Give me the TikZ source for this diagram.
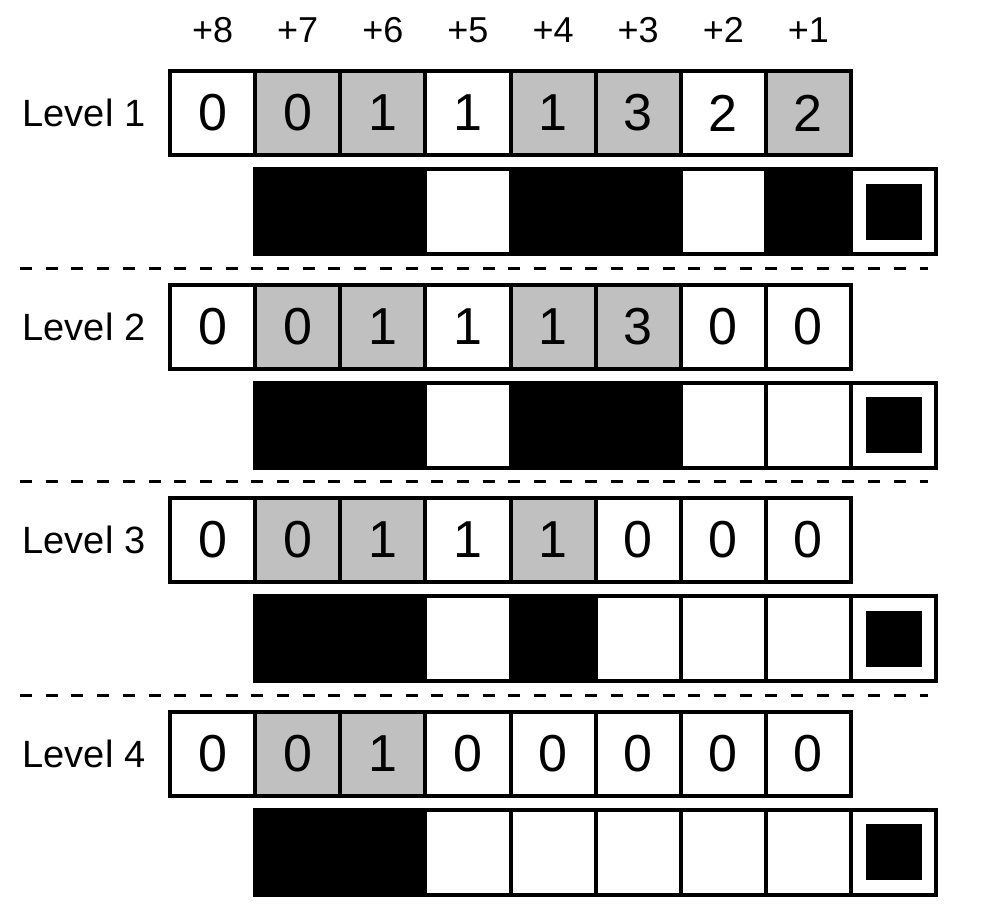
\documentclass[tikz,border=0pt]{standalone}
\usepackage{fontspec}
\setmainfont{Liberation Sans}
\definecolor{cellgray}{RGB}{192,192,192}
\newcommand\drawlevel[3]{%
  \pgfmathsetmacro\ty{113+213.5*(#1-1)}%
  \pgfmathsetmacro\by{211.5+213.5*(#1-1)}%
  \node[lvl] (L#1) at (84,\ty) {Level #1};
  \foreach \v/\f [count=\i] in {#2} {
    \node[cellbox,\f] (t#1c\i) at ({170+85.125*(\i-0.5)},\ty) {\v};
  }
  \foreach \f [count=\j from 2] in {#3} {
    \node[barbox,\f] (b#1c\j) at ({170+85.125*(\j-0.5)},\by) {};
  }
  \node[barbox,w] (b#1c9) at ({170+85.125*8.5},\by) {};
  \node[blacksq] (s#1) at (b#1c9.center) {};
}
\begin{document}
\begin{tikzpicture}[x=1pt,y=-1pt,
  cellbox/.style={draw=black,line width=4pt,minimum width=85.125pt,minimum height=84pt,inner sep=0pt,font=\fontsize{52}{52}\selectfont},
  barbox/.style={draw=black,line width=4pt,minimum width=85.125pt,minimum height=85pt,inner sep=0pt},
  w/.style={fill=white}, g/.style={fill=cellgray}, k/.style={fill=black},
  blacksq/.style={fill=black,draw=none,minimum width=56pt,minimum height=56pt,inner sep=0pt},
  hdr/.style={font=\fontsize{36}{36}\selectfont,inner sep=0pt},
  lvl/.style={font=\fontsize{38}{38}\selectfont,inner sep=0pt},
  dashline/.style={line width=3pt,dash pattern=on 12pt off 13.7pt}]
\useasboundingbox (0,0) rectangle (988,910);
\fill[white] (0,0) rectangle (988,910);
\foreach \i in {1,...,8}{
  \pgfmathtruncatemacro\n{9-\i}
  \node[hdr] (h\i) at ({170+85.125*(\i-0.5)},30) {+\n};
}
\drawlevel{1}{0/w,0/g,1/g,1/w,1/g,3/g,2/w,2/g}{k,k,w,k,k,w,k}
\drawlevel{2}{0/w,0/g,1/g,1/w,1/g,3/g,0/w,0/w}{k,k,w,k,k,w,w}
\drawlevel{3}{0/w,0/g,1/g,1/w,1/g,0/w,0/w,0/w}{k,k,w,k,w,w,w}
\drawlevel{4}{0/w,0/g,1/g,0/w,0/w,0/w,0/w,0/w}{k,k,w,w,w,w,w}
\foreach \d in {1,2,3}{
  \pgfmathsetmacro\dy{268+213.5*(\d-1)}
  \coordinate (dl\d) at (20,\dy);
  \coordinate (dr\d) at (928,\dy);
  \draw[dashline] (dl\d) -- (dr\d);
}
\end{tikzpicture}
\end{document}
